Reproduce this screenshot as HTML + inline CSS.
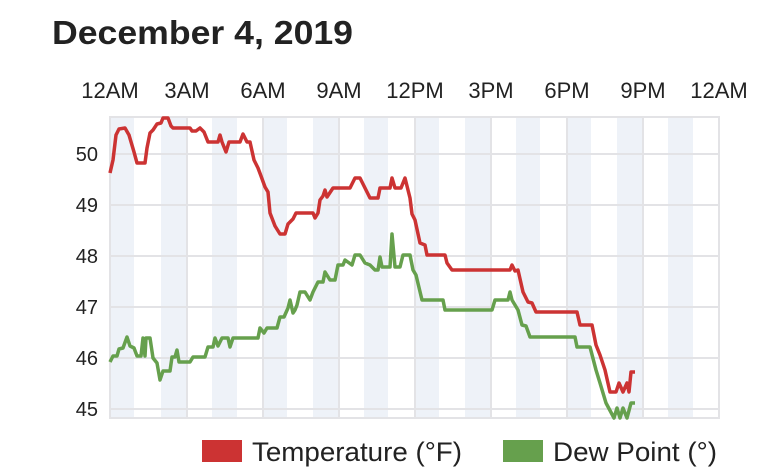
<!DOCTYPE html><html><head><style>body{margin:0;background:#fff;width:777px;height:470px;overflow:hidden}</style></head><body>
<svg width="777" height="470" xmlns="http://www.w3.org/2000/svg" font-family="Liberation Sans, sans-serif">
<text x="52" y="44" font-size="33" font-weight="bold" fill="#222" textLength="301" lengthAdjust="spacingAndGlyphs">December 4, 2019</text>
<g fill="#eef2f8">
<rect x="110" y="117" width="24" height="301"/><rect x="161" y="117" width="25" height="301"/><rect x="212" y="117" width="25" height="301"/><rect x="262" y="117" width="25" height="301"/><rect x="313" y="117" width="25" height="301"/><rect x="364" y="117" width="24" height="301"/><rect x="414" y="117" width="25" height="301"/><rect x="465" y="117" width="25" height="301"/><rect x="516" y="117" width="24" height="301"/><rect x="566" y="117" width="25" height="301"/><rect x="617" y="117" width="25" height="301"/><rect x="668" y="117" width="25" height="301"/>
</g>
<g stroke="#e3e3e6" stroke-width="2" fill="none">
<rect x="110" y="117" width="609" height="301"/>
<path d="M110 154H719M110 205H719M110 256H719M110 307H719M110 358H719M110 409H719M187 117V418M263 117V418M339 117V418M415 117V418M491 117V418M567 117V418M643 117V418"/>
</g>
<g font-size="22" fill="#222" text-anchor="middle">
<text x="110" y="98">12AM</text><text x="187" y="98">3AM</text><text x="263" y="98">6AM</text><text x="339" y="98">9AM</text><text x="415" y="98">12PM</text><text x="491" y="98">3PM</text><text x="567" y="98">6PM</text><text x="643" y="98">9PM</text><text x="719" y="98">12AM</text>
</g>
<g font-size="20" fill="#222" text-anchor="end">
<text x="98" y="161">50</text><text x="98" y="212">49</text><text x="98" y="263">48</text><text x="98" y="314">47</text><text x="98" y="365">46</text><text x="98" y="416">45</text>
</g>
<polyline fill="none" stroke="#cc3333" stroke-width="3.5" stroke-linejoin="round" points="110,173 113,160 116,135 119,129 125,128 129,135 134,152 137,163 145,163 147,148 150,133 153,130 157,124 161,123 163,118 168,118 171,126 173,128 190,128 192,131 196,131 200,128 204,132 208,142 218,142 220,135 222,142 226,152 229,142 240,142 243,134 247,142 250,142 254,160 258,168 261,176 265,187 268,192 270,213 275,226 280,234 285,234 288,224 293,219 296,213 313,213 315,218 318,213 320,200 323,196 325,190 327,197 333,188 350,188 355,178 360,178 365,188 370,198 378,198 380,188 390,188 392,178 395,188 401,188 405,178 410,198 412,214 415,220 420,243 425,245 427,255 445,255 447,263 452,270 510,270 512,265 515,271 518,270 523,292 528,302 532,303 536,312 577,312 580,325 592,325 596,345 600,355 605,370 610,392 616,392 619,383 623,392 627,383 629,392 631,372 635,372"/>
<polyline fill="none" stroke="#66a04d" stroke-width="3.5" stroke-linejoin="round" points="110,362 113,356 117,356 119,349 123,348 127,337 130,346 134,348 137,356 141,356 143,338 145,356 146,338 150,338 153,358 157,363 160,380 163,371 170,371 172,357 175,357 177,350 179,362 190,362 193,357 205,357 208,347 213,347 215,338 218,346 222,338 228,338 230,347 233,338 258,338 260,328 264,333 267,328 277,328 280,317 284,317 288,308 290,300 293,313 295,310 297,305 300,292 305,292 310,300 313,292 318,282 323,282 325,272 330,280 335,280 338,265 343,265 345,260 352,265 355,255 360,255 365,263 370,265 375,270 378,270 380,257 382,267 390,267 392,234 395,267 400,267 403,255 410,255 413,270 416,275 422,300 443,300 445,310 492,310 495,300 508,300 510,292 512,300 518,310 522,325 526,326 530,337 575,337 577,347 590,347 596,370 600,383 606,403 614,418 617,408 620,418 623,408 627,418 631,403 635,403"/>
<rect x="202" y="440" width="40" height="22" fill="#cc3333"/>
<text x="252" y="461" font-size="27" fill="#222" textLength="210" lengthAdjust="spacingAndGlyphs">Temperature (°F)</text>
<rect x="503" y="440" width="40" height="22" fill="#66a04d"/>
<text x="553" y="461" font-size="27" fill="#222" textLength="164" lengthAdjust="spacingAndGlyphs">Dew Point (°)</text>
</svg>
</body></html>
